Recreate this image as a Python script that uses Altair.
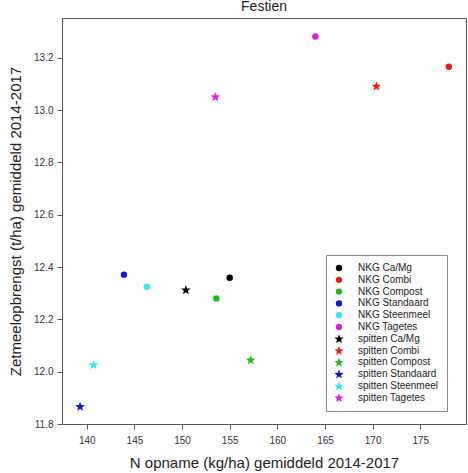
import math
import altair as alt
import pandas as pd

labels = ["NKG Ca/Mg", "NKG Combi", "NKG Compost", "NKG Standaard", "NKG Steenmeel", "NKG Tagetes",
          "spitten Ca/Mg", "spitten Combi", "spitten Compost", "spitten Standaard", "spitten Steenmeel", "spitten Tagetes"]
n_uptake = [155.0, 178.0, 153.6, 143.9, 146.3, 164.0,
            150.4, 170.4, 157.2, 139.3, 140.7, 153.5]
yield_ = [12.359, 13.166, 12.280, 12.371, 12.325, 13.281,
          12.313, 13.092, 12.045, 11.867, 12.027, 13.051]
colors = ["#000000", "#e41a1c", "#22b822", "#1414c8", "#33e6f0", "#e020e0",
          "#000000", "#e41a1c", "#22b822", "#1414c8", "#33e6f0", "#e020e0"]

# five-pointed star as a custom symbol path
pts = []
for i in range(10):
    ang = math.radians(-90 + 36 * i)
    r = 1.55 if i % 2 == 0 else 0.65
    pts.append(f"{r * math.cos(ang):.3f},{r * math.sin(ang) + 0.1:.3f}")
star = "M" + "L".join(pts) + "Z"
shapes = ["circle"] * 6 + [star] * 6

df = pd.DataFrame({"label": labels, "x": n_uptake, "y": yield_})

font = "Liberation Sans"

chart = alt.Chart(df).mark_point(filled=True, opacity=1, size=42).encode(
    x=alt.X("x:Q", scale=alt.Scale(domain=[137.4, 179.8], nice=False, zero=False),
            axis=alt.Axis(title="N opname (kg/ha) gemiddeld 2014-2017", values=[140, 145, 150, 155, 160, 165, 170, 175],
                          grid=False, tickSize=5, labelFontSize=10, titleFontSize=15, titleFontWeight="normal",
                          labelColor="#333333", titleColor="#222222", labelPadding=6, titlePadding=10,
                          domainColor="#555555", tickColor="#555555")),
    y=alt.Y("y:Q", scale=alt.Scale(domain=[11.8, 13.352], nice=False, zero=False),
            axis=alt.Axis(title="Zetmeelopbrengst (t/ha) gemiddeld 2014-2017", values=[11.8, 12.0, 12.2, 12.4, 12.6, 12.8, 13.0, 13.2],
                          format=".1f", grid=False, tickSize=5, labelFontSize=10, titleFontSize=15, titleFontWeight="normal",
                          labelColor="#333333", titleColor="#222222", labelPadding=4, titlePadding=10,
                          domainColor="#555555", tickColor="#555555")),
    color=alt.Color("label:N", scale=alt.Scale(domain=labels, range=colors),
                    legend=alt.Legend(title=None, orient="none", legendX=264, legendY=237,
                                      strokeColor="#888888", padding=8, labelFontSize=10,
                                      symbolSize=40, rowPadding=1.8, labelOffset=14, labelColor="#222222",
                                      fillColor="white")),
    shape=alt.Shape("label:N", scale=alt.Scale(domain=labels, range=shapes)),
).properties(
    width=404, height=406,
    title=alt.TitleParams("Festien", fontSize=14, fontWeight="normal", font=font, color="#222222", offset=4),
    autosize=alt.AutoSizeParams(type="none"),
    padding={"left": 62, "top": 18, "right": 2, "bottom": 49},
).configure(font=font).configure_view(stroke="#555555", strokeWidth=1)

chart.save("out.html", embed_options={"renderer": "svg", "actions": False})
